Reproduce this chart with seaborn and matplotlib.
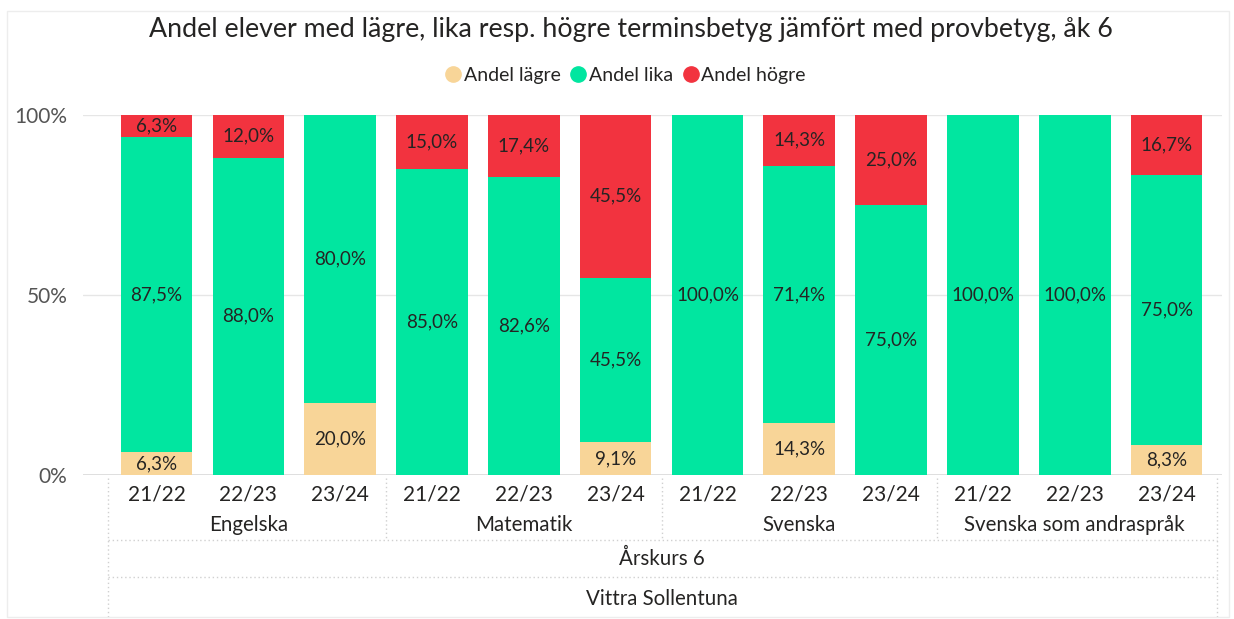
import matplotlib.pyplot as plt
import matplotlib.transforms as mtransforms
from matplotlib.lines import Line2D
from matplotlib.patches import Rectangle
import seaborn as sns
import pandas as pd

# Data
subjects = ['Engelska', 'Matematik', 'Svenska', 'Svenska som andraspråk']
years = ['21/22', '22/23', '23/24']
lagre = [6.3, 0, 20.0, 0, 0, 9.1, 0, 14.3, 0, 0, 0, 8.3]
lika = [87.5, 88.0, 80.0, 85.0, 82.6, 45.5, 100.0, 71.4, 75.0, 100.0, 100.0, 75.0]
hogre = [6.3, 12.0, 0, 15.0, 17.4, 45.5, 0, 14.3, 25.0, 0, 0, 16.7]

colors = {'lägre': '#F8D598', 'lika': '#01E6A0', 'högre': '#F2333F'}
txt = '#252423'

sns.set_style("white")
plt.rcParams['font.family'] = ['Lato', 'DejaVu Sans']

df = pd.DataFrame({
    'pos': list(range(len(lika))),
    'lagre': lagre, 'lika': lika, 'hogre': hogre,
})
df['cum_lika'] = df['lagre'] + df['lika']
df['cum_hogre'] = df['cum_lika'] + df['hogre']

fig = plt.figure(figsize=(12.34, 6.19), dpi=100)
fig.patches.append(Rectangle((0.006, 0.004), 0.99, 0.978, transform=fig.transFigure,
                             fill=False, edgecolor='#EDEDED', lw=1))
ax = fig.add_axes([0.067, 0.233, 0.923, 0.582])

# stacked bars: cumulative totals drawn back to front
for col, c in [('cum_hogre', colors['högre']), ('cum_lika', colors['lika']), ('lagre', colors['lägre'])]:
    sns.barplot(data=df, x='pos', y=col, color=c, width=0.78, ax=ax, linewidth=0,
                saturation=1, order=list(range(len(lika))), zorder=3)

# segment labels
for i, row in df.iterrows():
    segs = [(0, row['lagre']), (row['lagre'], row['lika']), (row['cum_lika'], row['hogre'])]
    for bottom, h in segs:
        if h > 0:
            top = min(bottom + h, 100)
            ax.text(i, (bottom + top) / 2, f"{h:.1f}%".replace('.', ','),
                    ha='center', va='center', fontsize=13.5, color=txt, zorder=5)

ax.set_ylim(0, 100)
ax.set_xlim(-0.805, 11.6)
ax.set_yticks([0, 50, 100])
ax.set_yticklabels(['0%', '50%', '100%'], fontsize=15, color='#555555')
ax.tick_params(axis='y', length=0, pad=11)
ax.set_xticks(range(12))
ax.set_xticklabels(years * len(subjects), fontsize=15, color=txt)
ax.tick_params(axis='x', length=0, pad=7)
ax.set_xlabel('')
ax.set_ylabel('')
for s in ax.spines.values():
    s.set_visible(False)
for yv in [50, 100]:
    ax.axhline(yv, color='#E6E6E6', lw=1, zorder=1)
ax.axhline(0, color='#D9D9D9', lw=1.2, zorder=1)

# hierarchical axis labels
trans = mtransforms.blended_transform_factory(ax.transData, ax.transAxes)
dot = dict(color='#D0D0D0', lw=1, ls=(0, (1, 2)), clip_on=False, transform=trans)
for k, name in enumerate(subjects):
    ax.text(3 * k + 1, -0.14, name, ha='center', va='center', fontsize=14.8,
            color=txt, transform=trans)
for b in [2.5, 5.5, 8.5]:
    ax.plot([b, b], [-0.01, -0.18], **dot)
for b in [-0.53, 11.55]:
    ax.plot([b, b], [-0.01, -0.40], **dot)
ax.plot([-0.53, 11.55], [-0.18, -0.18], **dot)
ax.plot([-0.53, 11.55], [-0.285, -0.285], **dot)
ax.text(5.5, -0.233, 'Årskurs 6', ha='center', va='center', fontsize=14.8,
        color=txt, transform=trans)
ax.text(5.5, -0.345, 'Vittra Sollentuna', ha='center', va='center', fontsize=14.8,
        color=txt, transform=trans)

# title and legend
fig.text(0.511, 0.952, 'Andel elever med lägre, lika resp. högre terminsbetyg jämfört med provbetyg, åk 6',
         ha='center', va='center', fontsize=19.3, color=txt)
handles = [Line2D([0], [0], marker='o', ls='', markersize=11, markerfacecolor=colors[k],
                  markeredgecolor=colors[k]) for k in ['lägre', 'lika', 'högre']]
fig.legend(handles, ['Andel lägre', 'Andel lika', 'Andel högre'], loc='center',
           bbox_to_anchor=(0.507, 0.878), ncol=3, frameon=False, fontsize=14,
           handlelength=0.8, handletextpad=0.15, columnspacing=0.5, labelcolor=txt)

plt.savefig('out.png', dpi=100)
plt.close()
